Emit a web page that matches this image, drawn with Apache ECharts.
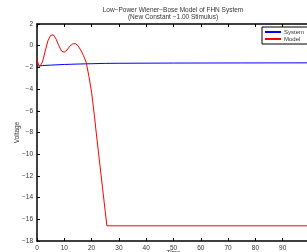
<!DOCTYPE html>
<html>
<head>
<meta charset="UTF-8">
<script src="https://cdn.jsdelivr.net/npm/echarts@6/dist/echarts.min.js"></script>
<style>
  html, body { margin: 0; padding: 0; background: #fff; }
  #main { width: 307px; height: 252px; }
</style>
</head>
<body>
<div id="main"></div>
<script>
// System response (blue)
var sysTime = [0, 1, 2, 5, 10, 15, 20, 25, 30, 50, 75, 100];
var sysVolt = [-1.87, -1.85, -1.83, -1.79, -1.73, -1.69, -1.66, -1.63, -1.62, -1.6, -1.59, -1.58];

// Wiener-Bose model output (red)
var modTime = [0, 0.5, 1, 1.5, 2, 3, 4, 5, 6, 7, 8, 9, 10, 11, 12, 13, 14, 15, 16, 17, 18, 19, 20, 21, 22, 23, 24, 25, 25.6, 100];
var modVolt = [-1.25, -1.7, -1.93, -1.85, -1.5, -0.5, 0.45, 0.95, 1.0, 0.6, 0.0, -0.5, -0.6, -0.4, -0.05, 0.15, 0.2, 0.0, -0.4, -0.9, -1.5, -2.8, -4.3, -6.4, -8.7, -10.9, -13.1, -15.3, -16.6, -16.6];

function pairs(xs, ys) {
  var out = [];
  for (var i = 0; i < xs.length; i++) out.push([xs[i], ys[i]]);
  return out;
}

var font = 'Liberation Sans, Arial, sans-serif';
var chart = echarts.init(document.getElementById('main'));

var option = {
  animation: false,
  backgroundColor: '#fff',
  graphic: [
    { type: 'text', x: 173, y: 7, style: { text: 'Low\u2212Power Wiener\u2212Bose Model of FHN System', fontSize: 6.5, fontFamily: font, fill: '#333', align: 'center' } },
    { type: 'text', x: 173, y: 14, style: { text: '(New Constant \u22121.00 Stimulus)', fontSize: 6.5, fontFamily: font, fill: '#333', align: 'center' } }
  ],
  grid: { left: 37, top: 24, width: 273, height: 217, show: false, outerBoundsMode: 'none', containLabel: false },
  legend: {
    left: 262, top: 27,
    orient: 'vertical',
    itemWidth: 16, itemHeight: 2, itemGap: 1,
    padding: [2, 10, 2, 3],
    borderColor: '#000', borderWidth: 1,
    backgroundColor: '#fff',
    textStyle: { fontSize: 6, fontFamily: font, color: '#333', padding: [0, 0, 0, -2] },
    data: [
      { name: 'System', icon: 'rect' },
      { name: 'Model', icon: 'rect' }
    ]
  },
  xAxis: [{
    type: 'value', min: 0, max: 100, interval: 10,
    name: 'Time', nameLocation: 'middle', nameGap: 9, nameMoveOverlap: false,
    nameTextStyle: { fontSize: 6.5, fontFamily: font, color: '#333', verticalAlign: 'top' },
    axisLine: { show: true, onZero: false, lineStyle: { color: '#000', width: 1.5 } },
    axisTick: { show: true, inside: true, length: 3, lineStyle: { color: '#000' } },
    axisLabel: { fontSize: 6.5, fontFamily: font, color: '#333', margin: 4, showMaxLabel: false },
    splitLine: { show: false }
  }, {
    type: 'value', min: 0, max: 100, interval: 10, position: 'top',
    axisLine: { show: true, onZero: false, lineStyle: { color: '#000', width: 1.5 } },
    axisTick: { show: true, inside: true, length: 3, lineStyle: { color: '#000' } },
    axisLabel: { show: false },
    splitLine: { show: false }
  }],
  yAxis: [{
    type: 'value', min: -18, max: 2, interval: 2,
    name: 'Voltage', nameLocation: 'middle', nameGap: 16, nameMoveOverlap: false,
    nameTextStyle: { fontSize: 6.5, fontFamily: font, color: '#333' },
    axisLine: { show: true, onZero: false, lineStyle: { color: '#000', width: 1.5 } },
    axisTick: { show: true, inside: true, length: 3, lineStyle: { color: '#000' } },
    axisLabel: { fontSize: 6.5, fontFamily: font, color: '#333', margin: 4,
      formatter: function (v) { return String(v).replace('-', '\u2212'); } },
    splitLine: { show: false }
  }],
  series: [{
    name: 'System', type: 'line', xAxisIndex: 0, symbol: 'none',
    data: pairs(sysTime, sysVolt),
    lineStyle: { color: '#0000ff', width: 1 }, itemStyle: { color: '#0000ff' }
  }, {
    name: 'Model', type: 'line', xAxisIndex: 0, symbol: 'none',
    data: pairs(modTime, modVolt),
    lineStyle: { color: '#ff0000', width: 1 }, itemStyle: { color: '#ff0000' }
  }]
};
chart.setOption(option);
</script>
</body>
</html>
